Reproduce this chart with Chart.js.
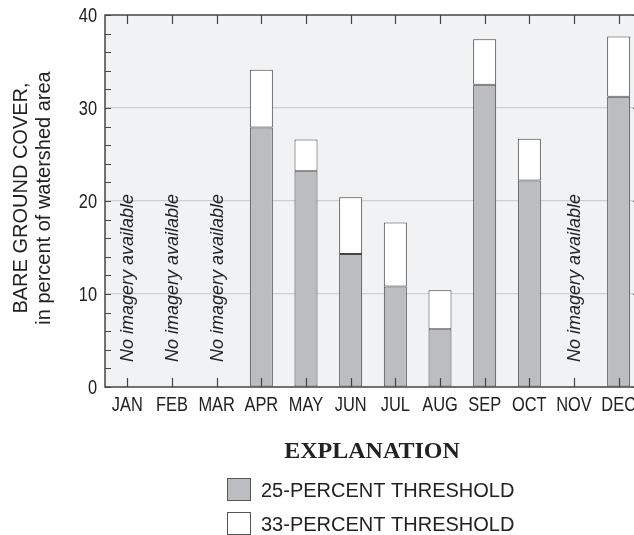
<!DOCTYPE html>
<html>
<head>
<meta charset="utf-8">
<script src="https://cdn.jsdelivr.net/npm/chart.js@4"></script>
<style>
  html, body { margin: 0; padding: 0; background: #ffffff; overflow: hidden; }
  #grafico { display: block; }
</style>
</head>
<body>
<canvas id="grafico" width="650" height="535"></canvas>
<script>
// valores (percentagem da área da bacia)
const meses = ['JAN', 'FEB', 'MAR', 'APR', 'MAY', 'JUN', 'JUL', 'AUG', 'SEP', 'OCT', 'NOV', 'DEC'];
const limiar25 = [null, null, null, 27.9, 23.2, 14.3, 10.8, 6.2, 32.5, 22.2, null, 31.2];
const limiar33 = [null, null, null, 34.1, 26.6, 20.4, 17.7, 10.4, 37.4, 26.7, null, 37.7];
const ticksY = [0, 10, 20, 30, 40];
const semImagem = 'No imagery available';
const tituloY = ['BARE GROUND COVER,', 'in percent of watershed area'];
const legendaTitulo = 'EXPLANATION';
const legendaItens = ['25-PERCENT THRESHOLD', '33-PERCENT THRESHOLD'];

const CINZA = '#bcbdc0';
const CONTORNO = '#444444';
const SANS = '"Liberation Sans", Arial, sans-serif';
const ESTREITO = 0.82; // simula a fonte condensada dos rótulos

// barra branca vai do limiar 25 até o limiar 33
const faixa33 = limiar33.map((v, i) => v == null ? null : [limiar25[i], v]);

function textoEstreito(ctx, txt, x, y, align) {
    ctx.save();
    ctx.translate(x, y);
    ctx.scale(ESTREITO, 1);
    ctx.textAlign = align;
    ctx.fillText(txt, 0, 0);
    ctx.restore();
}

const extras = {
    id: 'extras',
    beforeDraw(chart) {
        const { ctx, chartArea: a } = chart;
        ctx.save();
        ctx.fillStyle = '#f1f2f4';
        ctx.fillRect(a.left, a.top, a.right - a.left, a.bottom - a.top);
        ctx.restore();
    },
    afterDraw(chart) {
        const { ctx, chartArea: a, scales } = chart;
        const x = scales.x, y = scales.y;
        ctx.save();
        ctx.strokeStyle = CONTORNO;
        ctx.lineWidth = 1.2;
        // marcas internas
        ctx.beginPath();
        for (let v = 0; v <= 40; v += 2) {
            const py = Math.round(y.getPixelForValue(v)) + 0.5;
            ctx.moveTo(a.left, py); ctx.lineTo(a.left + 6, py);
            if (v % 10 === 0) { ctx.moveTo(a.right - 8, py); ctx.lineTo(a.right, py); }
        }
        meses.forEach((m, i) => {
            const px = Math.round(x.getPixelForValue(i)) + 0.5;
            ctx.moveTo(px, a.top); ctx.lineTo(px, a.top + 9);
            ctx.moveTo(px, a.bottom); ctx.lineTo(px, a.bottom - 9);
        });
        ctx.stroke();
        // moldura
        ctx.lineWidth = 1.5;
        ctx.strokeRect(a.left, a.top, a.right - a.left, a.bottom - a.top);

        // rótulos dos eixos
        ctx.fillStyle = '#222';
        ctx.font = '20px ' + SANS;
        ctx.textBaseline = 'alphabetic';
        meses.forEach((m, i) => textoEstreito(ctx, m, x.getPixelForValue(i), 411, 'center'));
        ctx.textBaseline = 'middle';
        ticksY.forEach(v => textoEstreito(ctx, String(v), 97, y.getPixelForValue(v) + 1, 'right'));

        // "No imagery available"
        ctx.font = 'italic 18px ' + SANS;
        ctx.textAlign = 'left';
        ctx.textBaseline = 'middle';
        limiar33.forEach((v, i) => {
            if (v != null) return;
            ctx.save();
            ctx.translate(x.getPixelForValue(i) + 1, 362);
            ctx.rotate(-Math.PI / 2);
            ctx.fillText(semImagem, 0, 0);
            ctx.restore();
        });

        // título do eixo Y
        ctx.font = '20px ' + SANS;
        ctx.textAlign = 'center';
        ctx.textBaseline = 'middle';
        [21, 44].forEach((cx, k) => {
            ctx.save();
            ctx.translate(cx, 198);
            ctx.rotate(-Math.PI / 2);
            ctx.fillText(tituloY[k], 0, 0);
            ctx.restore();
        });

        // legenda
        ctx.font = 'bold 24px "Liberation Serif", "Times New Roman", serif';
        ctx.textBaseline = 'alphabetic';
        ctx.fillText(legendaTitulo, 372, 458);
        ctx.font = '20px ' + SANS;
        ctx.textAlign = 'left';
        const cores = [CINZA, '#ffffff'];
        legendaItens.forEach((t, k) => {
            const by = 478 + k * 34;
            ctx.fillStyle = cores[k];
            ctx.fillRect(227.5, by + 0.5, 23, 22);
            ctx.lineWidth = 1;
            ctx.strokeStyle = '#555';
            ctx.strokeRect(227.5, by + 0.5, 23, 22);
            ctx.fillStyle = '#222';
            ctx.fillText(t, 261, by + 19);
        });
        ctx.restore();
    }
};

new Chart(document.getElementById('grafico'), {
    type: 'bar',
    data: {
        labels: meses,
        datasets: [
            {
                label: legendaItens[0],
                data: limiar25,
                backgroundColor: CINZA,
                borderColor: CONTORNO,
                borderWidth: 1,
                borderSkipped: false,
                grouped: false,
                barPercentage: 0.515,
                categoryPercentage: 1.0
            },
            {
                label: legendaItens[1],
                data: faixa33,
                backgroundColor: '#ffffff',
                borderColor: CONTORNO,
                borderWidth: 1,
                borderSkipped: false,
                grouped: false,
                barPercentage: 0.515,
                categoryPercentage: 1.0
            }
        ]
    },
    options: {
        responsive: false,
        devicePixelRatio: 1,
        animation: false,
        layout: { padding: { top: 15, right: 9, left: 0, bottom: 0 } },
        plugins: { legend: { display: false }, tooltip: { enabled: false } },
        scales: {
            x: {
                grid: { display: false, drawTicks: false },
                border: { display: false },
                ticks: { display: false },
                afterFit: (s) => { s.height = 148; }
            },
            y: {
                min: 0,
                max: 40,
                afterBuildTicks: (s) => { s.ticks = ticksY.map(v => ({ value: v })); },
                grid: {
                    drawTicks: false,
                    color: (c) => (c.tick && c.tick.value > 0 && c.tick.value < 40) ? '#cfcfcf' : 'rgba(0,0,0,0)',
                    lineWidth: 1.2
                },
                border: { display: false },
                ticks: { display: false },
                afterFit: (s) => { s.width = 105; }
            }
        }
    },
    plugins: [extras]
});
</script>
</body>
</html>
